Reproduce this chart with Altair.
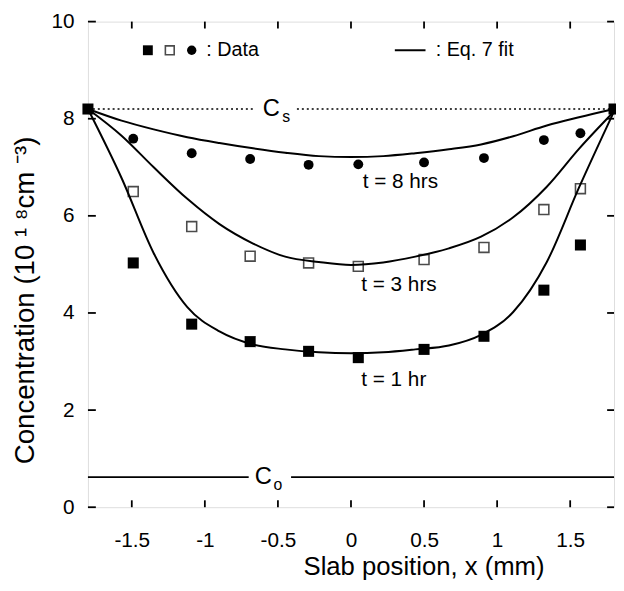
import altair as alt
import pandas as pd

# ---- data ----
x_data = [-1.49, -1.09, -0.69, -0.29, 0.05, 0.50, 0.91, 1.32, 1.57]
c_1hr = [5.03, 3.77, 3.41, 3.21, 3.08, 3.25, 3.52, 4.47, 5.40]
c_3hr = [6.50, 5.78, 5.17, 5.03, 4.96, 5.10, 5.35, 6.13, 6.56]
c_8hr = [7.59, 7.29, 7.17, 7.05, 7.06, 7.10, 7.19, 7.56, 7.70]

x_edge = [-1.8, 1.8]
c_edge = [8.2, 8.2]

fit_x = [-1.8, -1.57, -1.35, -1.12, -0.90, -0.67, -0.45, -0.22, 0.0,
         0.22, 0.44, 0.67, 0.89, 1.11, 1.34, 1.56, 1.8]
fit_1hr = [8.2, 6.78, 5.23, 4.12, 3.62, 3.35, 3.25, 3.19, 3.17,
           3.19, 3.25, 3.33, 3.55, 4.02, 5.05, 6.58, 8.15]
fit_3hr = [8.2, 7.65, 7.00, 6.35, 5.83, 5.43, 5.16, 5.05, 4.99,
           5.04, 5.16, 5.33, 5.57, 5.97, 6.60, 7.38, 8.15]
fit_8hr = [8.2, 7.96, 7.78, 7.62, 7.50, 7.39, 7.30, 7.23, 7.21,
           7.23, 7.29, 7.37, 7.47, 7.64, 7.86, 8.03, 8.2]

x_ticks = [-1.5, -1.0, -0.5, 0.0, 0.5, 1.0, 1.5]
y_ticks = [0, 2, 4, 6, 8, 10]

c_surface = 8.2
c_initial = 0.62

# ---- annotation placement ----
cs_segments = [(-1.8, -0.66), (-0.37, 1.8)]
co_segments = [(-1.8, -0.70), (-0.41, 1.8)]
curve_labels = ["t = 8 hrs", "t = 3 hrs", "t = 1 hr"]
curve_label_x = [0.08, 0.07, 0.07]
curve_label_y = [6.69, 4.57, 2.61]
legend_y = 9.41

W, H = 533, 492
FONT = "Liberation Sans"

xs = alt.Scale(domain=[-1.8, 1.8], nice=False, zero=False)
ys = alt.Scale(domain=[0, 10], nice=False, zero=False)

xaxis = alt.Axis(values=x_ticks, labelExpr="toString(datum.value)", ticks=False,
                 domain=False, grid=False, labelFont=FONT, labelFontSize=21,
                 labelPadding=23, labelColor="black",
                 title="Slab position, x (mm)", titleFont=FONT, titleFontSize=26,
                 titleFontWeight="normal", titleColor="black",
                 titleX=340, titleY=68, titleAlign="center", titleBaseline="alphabetic")
yaxis = alt.Axis(values=y_ticks, ticks=False, domain=False, grid=False,
                 labelFont=FONT, labelFontSize=21, labelPadding=14, labelColor="black",
                 title="Concentration (10 \u00b9 \u2078cm \u207b\u00b3)", titleFont=FONT,
                 titleFontSize=28, titleFontWeight="normal", titleColor="black",
                 titleX=-63, titleY=282, titleAngle=270, titleAlign="center",
                 titleBaseline="middle")

pts1 = pd.DataFrame({"x": x_data, "y": c_1hr})
pts3 = pd.DataFrame({"x": x_data, "y": c_3hr})
pts8 = pd.DataFrame({"x": x_data, "y": c_8hr})
edge = pd.DataFrame({"x": x_edge, "y": c_edge})

base_pts = alt.Chart(pts1).mark_point(shape="square", filled=True, size=125,
                                      color="black", opacity=1).encode(
    x=alt.X("x:Q", scale=xs, axis=xaxis),
    y=alt.Y("y:Q", scale=ys, axis=yaxis))
open_pts = alt.Chart(pts3).mark_point(shape="square", filled=False, size=100,
                                      color="black", strokeWidth=1.6).encode(x="x:Q", y="y:Q")
circ_pts = alt.Chart(pts8).mark_point(shape="circle", filled=True, size=100,
                                      color="black", opacity=1).encode(x="x:Q", y="y:Q")
edge_pts = alt.Chart(edge).mark_point(shape="square", filled=True, size=125,
                                      color="black", opacity=1).encode(x="x:Q", y="y:Q")

fits = pd.DataFrame({
    "x": fit_x * 3,
    "y": fit_1hr + fit_3hr + fit_8hr,
    "t": ["1"] * len(fit_x) + ["3"] * len(fit_x) + ["8"] * len(fit_x),
})
lines = alt.Chart(fits).mark_line(color="black", strokeWidth=2,
                                  interpolate="monotone").encode(
    x="x:Q", y="y:Q", detail="t:N")

cs_df = pd.DataFrame({"x": [a for a, b in cs_segments], "x2": [b for a, b in cs_segments],
                      "y": [c_surface] * len(cs_segments)})
cs_lines = alt.Chart(cs_df).mark_rule(color="black", strokeWidth=1.3,
                                      strokeDash=[2, 3]).encode(x="x:Q", x2="x2:Q", y="y:Q")
co_df = pd.DataFrame({"x": [a for a, b in co_segments], "x2": [b for a, b in co_segments],
                      "y": [c_initial] * len(co_segments)})
co_lines = alt.Chart(co_df).mark_rule(color="black", strokeWidth=1.6).encode(
    x="x:Q", x2="x2:Q", y="y:Q")

def txt(label, x, y, size, align="left", baseline="middle"):
    return alt.Chart(pd.DataFrame({"x": [x], "y": [y], "t": [label]})).mark_text(
        font=FONT, fontSize=size, align=align, baseline=baseline, color="black").encode(
        x="x:Q", y="y:Q", text="t:N")

cs_text = txt("C", -0.545, c_surface, 24, align="center") + txt("s", -0.47, c_surface - 0.17, 16)
co_text = txt("C", -0.60, c_initial, 24, align="center") + txt("o", -0.53, c_initial - 0.17, 16)

lab_df = pd.DataFrame({"x": curve_label_x, "y": curve_label_y, "t": curve_labels})
curve_text = alt.Chart(lab_df).mark_text(font=FONT, fontSize=21, align="left",
                                         baseline="middle", color="black").encode(
    x="x:Q", y="y:Q", text="t:N")

# legend
leg_fs = alt.Chart(pd.DataFrame({"x": [-1.39], "y": [legend_y]})).mark_point(
    shape="square", filled=True, size=100, color="black", opacity=1).encode(x="x:Q", y="y:Q")
leg_os = alt.Chart(pd.DataFrame({"x": [-1.24], "y": [legend_y]})).mark_point(
    shape="square", filled=False, size=80, color="black", strokeWidth=1.6).encode(x="x:Q", y="y:Q")
leg_c = alt.Chart(pd.DataFrame({"x": [-1.09], "y": [legend_y]})).mark_point(
    shape="circle", filled=True, size=90, color="black", opacity=1).encode(x="x:Q", y="y:Q")
leg_line = alt.Chart(pd.DataFrame({"x": [0.30], "x2": [0.51], "y": [legend_y]})).mark_rule(
    color="black", strokeWidth=2).encode(x="x:Q", x2="x2:Q", y="y:Q")
leg_t1 = txt(": Data", -0.99, legend_y, 20)
leg_t2 = txt(": Eq. 7 fit", 0.58, legend_y, 20)

# inward ticks on all four sides
xt = pd.DataFrame({"v": x_ticks})
yt = pd.DataFrame({"v": y_ticks})
tick_b = alt.Chart(xt).mark_rule(color="black", strokeWidth=1.8).encode(
    x="v:Q", y=alt.value(H), y2=alt.value(H - 7))
tick_t = alt.Chart(xt).mark_rule(color="black", strokeWidth=1.8).encode(
    x="v:Q", y=alt.value(0), y2=alt.value(7))
tick_l = alt.Chart(yt).mark_rule(color="black", strokeWidth=1.8).encode(
    y="v:Q", x=alt.value(0), x2=alt.value(8))
tick_r = alt.Chart(yt).mark_rule(color="black", strokeWidth=1.8).encode(
    y="v:Q", x=alt.value(W), x2=alt.value(W - 7))

chart = alt.layer(
    base_pts, co_lines, cs_lines, lines, open_pts, circ_pts, edge_pts,
    cs_text, co_text, curve_text,
    leg_fs, leg_os, leg_c, leg_line, leg_t1, leg_t2,
    tick_b, tick_t, tick_l, tick_r,
).properties(
    width=W, height=H,
    autosize=alt.AutoSizeParams(type="none"),
    padding={"left": 81, "top": 10, "right": 2, "bottom": 73},
).configure_view(
    stroke="black", strokeWidth=3
).configure(background="white")

chart.save("out.html", embed_options={"renderer": "svg", "actions": False})
